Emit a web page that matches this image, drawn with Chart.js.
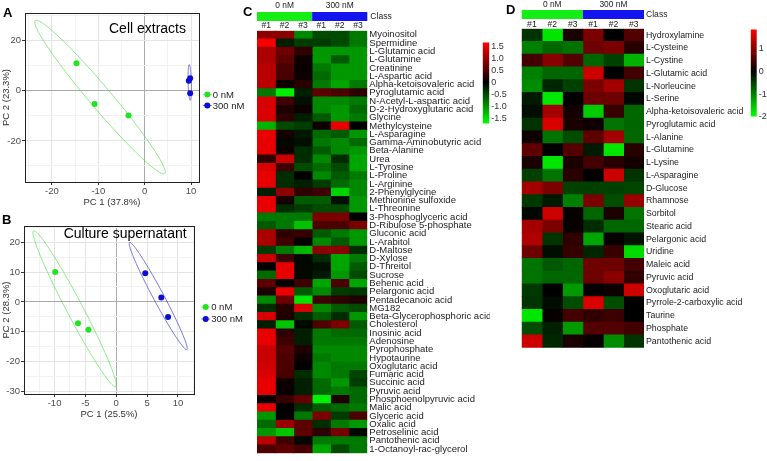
<!DOCTYPE html>
<html>
<head>
<meta charset="utf-8">
<script src="https://cdn.jsdelivr.net/npm/chart.js@4.4.0/dist/chart.umd.min.js"></script>
<style>
  body { margin: 0; background: #fff; width: 767px; height: 461px; position: relative; overflow: hidden; }
  canvas { position: absolute; }
  .tag { position: absolute; font: bold 13px "Liberation Sans", Arial, sans-serif; line-height: 13px; color: #000; }
</style>
</head>
<body>
<canvas id="pcaA" width="245" height="210" style="left:0;top:0"></canvas>
<canvas id="pcaB" width="245" height="212" style="left:0;top:210px"></canvas>
<canvas id="heatC" width="250" height="461" style="left:240px;top:0"></canvas>
<canvas id="barC" width="45" height="96" style="left:478px;top:35px"></canvas>
<canvas id="heatD" width="255" height="355" style="left:495px;top:0"></canvas>
<canvas id="barD" width="21" height="102" style="left:746px;top:22px"></canvas>
<div class="tag" style="left:3px;top:6px">A</div>
<div class="tag" style="left:2px;top:213px">B</div>
<div class="tag" style="left:243px;top:5px">C</div>
<div class="tag" style="left:506px;top:3px">D</div>
<script>
"use strict";
const FONT = '"Liberation Sans", Arial, sans-serif';

const groups = ['0 nM', '300 nM'];
const sampleIds = ['#1', '#2', '#3', '#1', '#2', '#3'];

// A - cell extracts, PCA scores
const cellAxisTitles = ['PC 1 (37.8%)', 'PC 2 (23.3%)'];
const cellPC1_0 = [-14.7, -10.8, -3.5];
const cellPC2_0 = [11.0, -5.3, -9.9];
const cellPC1_300 = [9.8, 9.5, 9.8];
const cellPC2_300 = [5.0, 4.0, -1.0];
// confidence ellipses: centre x, centre y, axis 1 (dx, dy), axis 2 (dx, dy)
const cellEll_0 = [-9.65, -2.5, 13.95, -30.5, 1.8, 2.8];
const cellEll_300 = [9.7, 3.3, -0.1, 7.1, 0.35, 0];

// B - culture supernatant, PCA scores
const supAxisTitles = ['PC 1 (25.5%)', 'PC 2 (28.3%)'];
const supPC1_0 = [-9.9, -6.2, -4.5];
const supPC2_0 = [10.0, -7.1, -9.3];
const supPC1_300 = [4.7, 7.3, 8.4];
const supPC2_300 = [9.6, 1.5, -5.0];
const supEll_0 = [-6.75, -2.25, 6.65, -26.05, 1.15, 1.28];
const supEll_300 = [6.8, 1.95, 4.65, -17.95, 0.75, 0.85];

// C - cell extracts heatmap (z-scores, columns = sampleIds)
const cellMetabolites = ['Myoinositol', 'Spermidine', 'L-Glutamic acid', 'L-Glutamine', 'Creatinine',
  'L-Aspartic acid', 'Alpha-ketoisovaleric acid', 'Pyroglutamic acid', 'N-Acetyl-L-aspartic acid',
  'D-2-Hydroxyglutaric acid', 'Glycine', 'Methylcysteine', 'L-Asparagine', 'Gamma-Aminobutyric acid',
  'Beta-Alanine', 'Urea', 'L-Tyrosine', 'L-Proline', 'L-Arginine', '2-Phenylglycine',
  'Methionine sulfoxide', 'L-Threonine', '3-Phosphoglyceric acid', 'D-Ribulose 5-phosphate',
  'Gluconic acid', 'L-Arabitol', 'D-Maltose', 'D-Xylose', 'D-Threitol', 'Sucrose', 'Behenic acid',
  'Pelargonic acid', 'Pentadecanoic acid', 'MG182', 'Beta-Glycerophosphoric acid', 'Cholesterol',
  'Inosinic acid', 'Adenosine', 'Pyrophosphate', 'Hypotaurine', 'Oxoglutaric acid', 'Fumaric acid',
  'Succinic acid', 'Pyruvic acid', 'Phosphoenolpyruvic acid', 'Malic acid', 'Glyceric acid',
  'Oxalic acid', 'Petroselinic acid', 'Pantothenic acid', '1-Octanoyl-rac-glycerol'];
const cellZ = [
  [0.9, 0.9, -0.9, -0.5, -0.5, -0.8],
  [1.6, -0.2, -0.4, -0.4, -0.5, -0.8],
  [1.1, 0.7, 0.3, -1.0, -1.0, -1.0],
  [1.1, 0.6, 0.1, -1.0, -0.6, -1.0],
  [1.2, 0.5, 0.05, -0.8, -1.0, -1.0],
  [1.2, 0.45, 0.1, -0.7, -1.0, -1.0],
  [1.2, 0.1, 0.25, -0.8, -1.1, -0.8],
  [-0.8, -1.6, -0.2, 0.6, 0.5, 0.3],
  [1.4, 0.4, -0.1, -0.9, -0.9, -0.8],
  [1.4, 0.2, 0.1, -0.9, -1.0, -0.7],
  [1.4, 0.3, -0.2, -0.6, -1.0, -0.8],
  [-1.2, -0.5, -0.4, 0.1, 1.5, 0.0],
  [1.5, 0.15, -0.15, -0.7, -0.6, -1.0],
  [1.5, -0.05, -0.1, -0.8, -0.9, -0.7],
  [1.5, 0.1, -0.3, -0.6, -0.9, -1.0],
  [0.3, 1.3, -0.3, -0.9, -0.3, -1.1],
  [1.4, 0.4, -0.5, -0.7, -0.5, -1.1],
  [1.5, -0.3, 0.0, -0.9, -0.6, -0.8],
  [1.5, -0.3, -0.2, -0.4, -0.7, -0.9],
  [-0.2, 0.9, 0.3, 0.4, -1.4, -0.9],
  [1.5, 0.15, -0.6, -0.6, -0.1, -1.0],
  [1.5, -0.3, -0.4, -0.5, -0.5, -1.0],
  [-0.8, -0.8, -0.8, 0.8, 0.8, 0.0],
  [-0.6, -0.8, -1.3, 0.5, 0.5, 0.8],
  [1.1, 0.3, 0.35, -0.6, -0.8, -1.0],
  [1.1, 0.4, 0.05, -0.9, -0.6, -1.0],
  [-0.4, -0.8, -1.2, 0.9, 0.9, -0.3],
  [1.3, 0.4, -0.05, -0.3, -1.1, -0.8],
  [0.0, 1.5, -0.05, -0.1, -1.1, -0.6],
  [-0.7, 1.5, -0.05, -0.15, -1.0, -0.5],
  [0.6, 0.0, 0.4, -1.1, 0.5, -1.1],
  [0.2, 1.5, -0.6, -0.9, -0.4, -0.35],
  [-0.9, 0.7, -1.5, 0.4, 0.3, 0.2],
  [-0.3, 0.25, 1.4, -0.9, -0.6, -0.5],
  [1.4, 0.2, -0.3, -0.6, -0.3, -1.0],
  [-0.2, -1.3, -0.05, 0.5, 0.8, -0.6],
  [1.5, 0.3, -0.2, -0.8, -0.7, -0.7],
  [1.5, 0.4, -0.2, -0.8, -0.8, -0.8],
  [1.3, 0.55, 0.2, -0.9, -0.9, -0.9],
  [1.3, 0.5, 0.1, -0.8, -0.9, -0.9],
  [1.35, 0.5, 0.0, -0.9, -0.8, -0.8],
  [1.4, 0.45, -0.3, -0.9, -0.8, -0.45],
  [1.5, 0.1, -0.2, -0.7, -1.0, -0.4],
  [1.5, 0.05, -0.2, -0.7, -0.8, -0.7],
  [0.05, 0.35, 0.65, -1.6, 0.2, -0.7],
  [1.5, 0.0, -0.3, -0.6, -0.7, -0.8],
  [-1.0, 0.0, -0.8, 0.8, -0.4, 0.5],
  [-0.7, 1.0, 0.6, -0.3, -0.8, -1.0],
  [-1.0, -1.3, 0.6, 0.3, 0.75, -0.05],
  [1.2, 0.4, -0.05, -0.8, -0.8, -0.8],
  [0.5, 0.6, 0.45, -1.1, -0.5, -0.8]
];
const cellRange = [-1.69, 1.65];

// D - culture supernatant heatmap
const supMetabolites = ['Hydroxylamine', 'L-Cysteine', 'L-Cystine', 'L-Glutamic acid', 'L-Norleucine',
  'L-Serine', 'Alpha-ketoisovaleric acid', 'Pyroglutamic acid', 'L-Alanine', 'L-Glutamine', 'L-Lysine',
  'L-Asparagine', 'D-Glucose', 'Rhamnose', 'Sorbitol', 'Stearic acid', 'Pelargonic acid', 'Uridine',
  'Maleic acid', 'Pyruvic acid', 'Oxoglutaric acid', 'Pyrrole-2-carboxylic acid', 'Taurine',
  'Phosphate', 'Pantothenic acid'];
const supZ = [
  [-0.4, -1.8, 0.2, 0.9, 0.0, 0.6],
  [-1.0, -0.8, -0.9, 0.8, 0.9, 0.3],
  [0.5, 1.0, 0.6, -0.8, -0.5, -1.4],
  [-1.0, -0.8, -0.8, 1.5, 0.0, 0.5],
  [-1.1, -0.3, -0.5, 0.9, 1.2, -0.4],
  [-0.2, -1.8, 0.0, 0.8, 0.8, -0.05],
  [-0.1, 1.2, 0.15, -1.6, 0.4, -0.8],
  [-0.4, 1.6, 0.2, 0.1, -0.9, -0.8],
  [0.1, -0.9, -0.6, 0.7, 1.2, -0.8],
  [0.7, 0.0, 0.6, -0.2, -1.8, 0.3],
  [0.2, -1.8, 0.2, 0.5, 0.3, 0.15],
  [-0.5, -0.9, 0.3, 0.0, 1.5, -0.4],
  [1.2, 0.9, -0.5, -0.5, -0.5, -0.55],
  [-0.45, -0.2, -1.0, 0.9, -0.6, 1.1],
  [-0.05, 1.5, 0.05, -0.8, 0.2, -0.9],
  [1.2, 0.9, 0.05, -0.35, -0.8, -0.8],
  [1.3, -0.4, 0.35, -1.3, 0.05, -0.15],
  [0.8, -0.1, 0.4, -0.3, 0.4, -1.7],
  [-0.9, -0.7, -0.8, 0.8, 0.8, 0.5],
  [-0.9, -0.8, -0.8, 0.8, 1.0, 0.35],
  [-0.45, 0.0, -1.2, 0.05, 0.1, 1.5],
  [-0.4, -0.1, -0.6, 1.6, -0.6, 0.0],
  [-1.8, 0.05, 0.5, 0.35, 0.45, 0.0],
  [-0.6, -0.25, -1.2, 0.6, 0.6, 0.5],
  [1.5, -0.3, 0.2, 0.05, -1.1, -0.4]
];
const supRange = [-2.0, 1.87];

// styles
const pointColors = ['#1ee61e', '#0c0cd6'];
const ellipseColors = ['rgba(40,220,40,0.55)', 'rgba(30,30,210,0.6)'];
const classColors = ['#14ee14', '#1414ee'];

function heatColor(v, lo, hi) {
  if (v >= 0) return 'rgb(' + Math.round(255 * Math.min(1, v / hi)) + ',0,0)';
  return 'rgb(0,' + Math.round(255 * Math.min(1, v / lo)) + ',0)';
}

const isMult = (v, m) => Math.abs(v / m - Math.round(v / m)) < 1e-6;

const pcaExtras = {
  id: 'pcaExtras',
  beforeDatasetsDraw(chart, args, o) {
    const { ctx, scales: { x, y } } = chart;
    o.ellipses.forEach((e, k) => {
      ctx.save();
      ctx.beginPath();
      for (let i = 0; i <= 180; i++) {
        const t = i / 180 * 2 * Math.PI;
        const px = x.getPixelForValue(e[0] + e[2] * Math.cos(t) + e[4] * Math.sin(t));
        const py = y.getPixelForValue(e[1] + e[3] * Math.cos(t) + e[5] * Math.sin(t));
        if (i) ctx.lineTo(px, py); else ctx.moveTo(px, py);
      }
      ctx.strokeStyle = ellipseColors[k];
      ctx.lineWidth = 1;
      ctx.stroke();
      ctx.restore();
    });
  },
  afterDraw(chart, args, o) {
    const { ctx, chartArea: a, scales: { x, y } } = chart;
    ctx.save();
    ctx.strokeStyle = '#222';
    ctx.lineWidth = 1;
    ctx.strokeRect(Math.round(a.left) + 0.5, Math.round(a.top) + 0.5,
      Math.round(a.right - a.left), Math.round(a.bottom - a.top));
    ctx.fillStyle = '#000';
    ctx.font = '14px ' + FONT;
    ctx.textAlign = 'right';
    ctx.textBaseline = 'middle';
    ctx.fillText(o.title, x.getPixelForValue(o.titleAt[0]), y.getPixelForValue(o.titleAt[1]));
    // legend
    ctx.font = '9.5px ' + FONT;
    ctx.textAlign = 'left';
    groups.forEach((g, k) => {
      const ly = o.legend[1] + k * o.legend[2];
      ctx.strokeStyle = ellipseColors[k];
      ctx.beginPath();
      ctx.moveTo(o.legend[0] - 4.5, ly);
      ctx.lineTo(o.legend[0] + 4.5, ly);
      ctx.stroke();
      ctx.fillStyle = pointColors[k];
      ctx.beginPath();
      ctx.arc(o.legend[0], ly, 3, 0, 2 * Math.PI);
      ctx.fill();
      ctx.fillStyle = '#222';
      ctx.fillText(g, o.legend[0] + 5.5, ly + 0.5);
    });
    ctx.restore();
  }
};

function pca(id, d) {
  const toPts = (xs, ys) => xs.map((v, i) => ({ x: v, y: ys[i] }));
  const axis = (lim, step, major, title, fit) => ({
    type: 'linear', min: lim[0], max: lim[1],
    ticks: {
      stepSize: step, includeBounds: false, autoSkip: false, padding: 1,
      maxRotation: 0, minRotation: 0,
      color: '#4d4d4d', font: { family: FONT, size: 9.5 },
      callback: v => isMult(v, major) ? v : ''
    },
    grid: {
      tickLength: 3,
      color: c => c.tick.value === 0 ? '#aaaaaa' : (isMult(c.tick.value, major) ? '#e4e4e4' : '#f2f2f2'),
      tickColor: c => isMult(c.tick.value, major) ? '#333' : 'rgba(0,0,0,0)'
    },
    border: { display: false },
    title: { display: true, text: title, color: '#333', font: { family: FONT, size: 9.5 }, padding: { top: 1, bottom: 2 } },
    afterFit: fit
  });
  return new Chart(document.getElementById(id), {
    type: 'scatter',
    data: {
      datasets: [
        { label: groups[0], data: toPts(d.x0, d.y0), backgroundColor: pointColors[0], pointRadius: 3, borderWidth: 0 },
        { label: groups[1], data: toPts(d.x1, d.y1), backgroundColor: pointColors[1], pointRadius: 3, borderWidth: 0 }
      ]
    },
    options: {
      responsive: false, animation: false, events: [],
      layout: { padding: d.pad },
      scales: {
        x: axis(d.xlim, d.xstep, d.xmajor, d.titles[0], s => { s.height = 28; }),
        y: axis(d.ylim, d.ystep, d.ymajor, d.titles[1], s => { s.width = d.yw; })
      },
      plugins: {
        legend: { display: false }, tooltip: { enabled: false },
        pcaExtras: { ellipses: d.ell, title: d.title, titleAt: d.titleAt, legend: d.legend }
      }
    },
    plugins: [pcaExtras]
  });
}

pca('pcaA', {
  x0: cellPC1_0, y0: cellPC2_0, x1: cellPC1_300, y1: cellPC2_300,
  ell: [cellEll_0, cellEll_300], titles: cellAxisTitles,
  xlim: [-25.8, 11.7], xstep: 5, xmajor: 10,
  ylim: [-36.4, 31], ystep: 10, ymajor: 20,
  pad: { left: 0, top: 13, right: 46, bottom: 0 }, yw: 25,
  title: 'Cell extracts', titleAt: [8.9, 24.6], legend: [207.3, 94.5, 11]
});

pca('pcaB', {
  x0: supPC1_0, y0: supPC2_0, x1: supPC1_300, y1: supPC2_300,
  ell: [supEll_0, supEll_300], titles: supAxisTitles,
  xlim: [-14.95, 12.6], xstep: 2.5, xmajor: 5,
  ylim: [-30.8, 25.4], ystep: 5, ymajor: 10,
  pad: { left: 0, top: 16, right: 51, bottom: 0 }, yw: 24,
  title: 'Culture supernatant', titleAt: [11.4, 22.8], legend: [205.7, 97, 12]
});

const heatHeader = {
  id: 'heatHeader',
  afterDraw(chart, args, o) {
    const { ctx, chartArea: a, scales: { x } } = chart;
    ctx.save();
    const cuts = [0, 3, 6];
    groups.forEach((g, k) => {
      const x0 = x.getPixelForValue(cuts[k]), x1 = x.getPixelForValue(cuts[k + 1]);
      ctx.fillStyle = classColors[k];
      ctx.fillRect(x0, o.barTop, x1 - x0, o.barH);
      ctx.fillStyle = '#222';
      ctx.font = '8.4px ' + FONT;
      ctx.textAlign = 'center';
      ctx.textBaseline = 'middle';
      ctx.fillText(g, (x0 + x1) / 2, o.groupY);
    });
    ctx.font = '8.6px ' + FONT;
    sampleIds.forEach((s, j) => {
      ctx.fillText(s, x.getPixelForValue(j + 0.5), o.sampleY);
    });
    ctx.textAlign = 'left';
    ctx.fillText('Class', a.right + o.classGap, o.barTop + o.barH / 2 + 0.5);
    ctx.restore();
  }
};

function heatmap(id, names, z, range, o) {
  return new Chart(document.getElementById(id), {
    type: 'bar',
    data: {
      labels: names,
      datasets: sampleIds.map((s, j) => ({
        label: s,
        data: z.map(() => 1),
        backgroundColor: z.map(r => heatColor(r[j], range[0], range[1])),
        borderWidth: 0, inflateAmount: 0.4,
        barPercentage: 1, categoryPercentage: 1
      }))
    },
    options: {
      indexAxis: 'y', responsive: false, animation: false, events: [],
      layout: { padding: o.pad },
      scales: {
        x: { stacked: true, display: false, min: 0, max: 6 },
        y: {
          stacked: true, position: 'right',
          grid: { display: false, drawTicks: false, tickLength: 0 }, border: { display: false },
          ticks: { autoSkip: false, padding: 2, color: '#222', font: { family: FONT, size: o.fs } },
          afterFit: s => { s.width = o.axisW; }
        }
      },
      plugins: { legend: { display: false }, tooltip: { enabled: false }, heatHeader: o.header }
    },
    plugins: [heatHeader]
  });
}

heatmap('heatC', cellMetabolites, cellZ, cellRange, {
  pad: { left: 17, top: 30.7, right: 0, bottom: 4 }, axisW: 122.7, fs: 9.5,
  header: { barTop: 12, barH: 9, groupY: 6, sampleY: 25.5, classGap: 3 }
});
heatmap('heatD', supMetabolites, supZ, supRange, {
  pad: { left: 26.7, top: 28.7, right: 0, bottom: 5.7 }, axisW: 106, fs: 8.8,
  header: { barTop: 10, barH: 9, groupY: 5, sampleY: 24.3, classGap: 2 }
});

function colorbar(id, range, step, o) {
  const lo = range[0], hi = range[1];
  return new Chart(document.getElementById(id), {
    type: 'bar',
    data: {
      labels: [''],
      datasets: [{
        data: [[lo, hi]], borderWidth: 0, barPercentage: 1, categoryPercentage: 1,
        backgroundColor: c => {
          const a = c.chart.chartArea;
          if (!a) return '#000';
          const g = c.chart.ctx.createLinearGradient(0, a.bottom, 0, a.top);
          g.addColorStop(0, heatColor(lo, lo, hi));
          g.addColorStop(-lo / (hi - lo), '#000');
          g.addColorStop(1, heatColor(hi, lo, hi));
          return g;
        }
      }]
    },
    options: {
      responsive: false, animation: false, events: [],
      layout: { padding: o.pad },
      scales: {
        x: { display: false },
        y: {
          min: lo, max: hi, position: 'right',
          grid: { display: false, drawTicks: false, tickLength: 0 }, border: { display: false },
          ticks: { stepSize: step, includeBounds: false, autoSkip: false, padding: 2, color: '#333', font: { family: FONT, size: 9 } },
          afterFit: s => { s.width = o.axisW; }
        }
      },
      plugins: { legend: { display: false }, tooltip: { enabled: false } }
    }
  });
}

colorbar('barC', cellRange, 0.5, { pad: { left: 4.7, top: 7.3, right: 0, bottom: 5.3 }, axisW: 33.7 });
colorbar('barD', supRange, 1, { pad: { left: 4.7, top: 7.3, right: 0, bottom: 6.7 }, axisW: 10.3 });
</script>
</body>
</html>
